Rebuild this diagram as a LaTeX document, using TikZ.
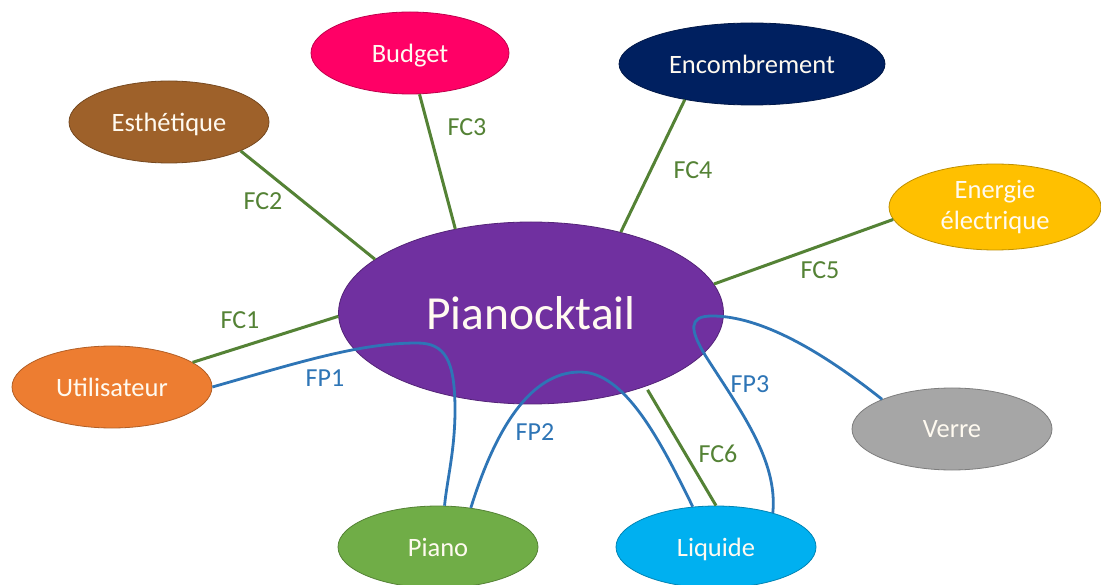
\documentclass[tikz,border=0pt]{standalone}
\usepackage{fontspec}
\setmainfont{Carlito}
\usetikzlibrary{shapes.geometric}
\definecolor{cPc}{RGB}{112,48,160}
\definecolor{cUt}{RGB}{237,125,49}
\definecolor{cEs}{RGB}{158,97,42}
\definecolor{cBu}{RGB}{255,0,102}
\definecolor{cEn}{RGB}{0,32,96}
\definecolor{cEe}{RGB}{255,192,0}
\definecolor{cVe}{RGB}{166,166,166}
\definecolor{cPi}{RGB}{112,173,71}
\definecolor{cLi}{RGB}{0,176,240}
\definecolor{cFC}{RGB}{84,130,53}
\definecolor{cFP}{RGB}{46,117,182}
\definecolor{cTx}{RGB}{255,250,240}
\tikzset{
  bubble/.style={ellipse, fill=#1, draw=#1!75!black, line width=0.8pt,
    minimum width=200pt, minimum height=82pt, inner sep=0pt,
    text=cTx, font=\fontsize{26.5}{31}\selectfont, align=center},
  fc/.style={draw=cFC, line width=3pt},
  fp/.style={draw=cFP, line width=2.8pt},
  fclab/.style={text=cFC, font=\fontsize{26}{31}\selectfont},
  fplab/.style={text=cFP, font=\fontsize{26}{31}\selectfont}
}
\begin{document}
\begin{tikzpicture}[x=1pt,y=-1pt]
\useasboundingbox (0,0) rectangle (1101,585);
\fill[white] (0,0) rectangle (1101,585);
% nodes
\node[bubble=cPc, minimum width=385pt, minimum height=182pt, font=\fontsize{47.5}{55}\selectfont, text depth=0pt] (pc) at (531,313) {Pianocktail};
\node[bubble=cUt, text depth=0pt] (ut) at (112,387) {Utilisateur};
\node[bubble=cEs, text depth=0pt] (es) at (169,122) {Esthétique};
\node[bubble=cBu, minimum width=198pt, text depth=0pt] (bu) at (410,53) {Budget};
\node[bubble=cEn, minimum width=266pt, text depth=0pt] (en) at (752,64) {Encombrement};
\node[bubble=cEe, minimum width=212pt, minimum height=86pt] (ee) at (995,207) {Energie\\électrique};
\node[bubble=cVe, text depth=0pt] (ve) at (952,429) {Verre};
\node[bubble=cPi, text depth=0pt] (pi) at (438,547) {Piano};
\node[bubble=cLi, text depth=0pt] (li) at (716,547) {Liquide};
% FC connectors
\draw[fc] (ut.17) -- (pc.181);
\draw[fc] (es.338) -- (pc.161);
\draw[fc] (bu.283) -- (pc.132);
\draw[fc] (en.208) -- (pc.42);
\draw[fc] (ee.187) -- (pc.9.5);
\draw[fc] ([shift={(0pt,-4pt)}]pc.328) -- (li.90);
% FP connectors
\draw[fp] (ut.0) .. controls (300,362) and (360,343) .. (417,343)
  .. controls (445,343) and (455,360) .. (455,410)
  .. controls (455,450) and (447,480) .. (pi.81);
\draw[fp] (pi.50) .. controls (495,430) and (530,372) .. (580,372)
  .. controls (625,372) and (660,440) .. (li.120);
\draw[fp] (li.31) .. controls (778,460) and (740,410) .. (705,355)
  .. controls (690,330) and (688,316) .. (712,316)
  .. controls (760,316) and (820,350) .. (ve.157);
% labels
\node[fclab] (l1) at (240,320) {FC1};
\node[fclab] (l2) at (263,201) {FC2};
\node[fclab] (l3) at (467,127) {FC3};
\node[fclab] (l4) at (693,170) {FC4};
\node[fclab] (l5) at (820,270) {FC5};
\node[fclab] (l6) at (718,454) {FC6};
\node[fplab] (p1) at (325,378) {FP1};
\node[fplab] (p2) at (535,432) {FP2};
\node[fplab] (p3) at (750,384) {FP3};
\end{tikzpicture}
\end{document}
